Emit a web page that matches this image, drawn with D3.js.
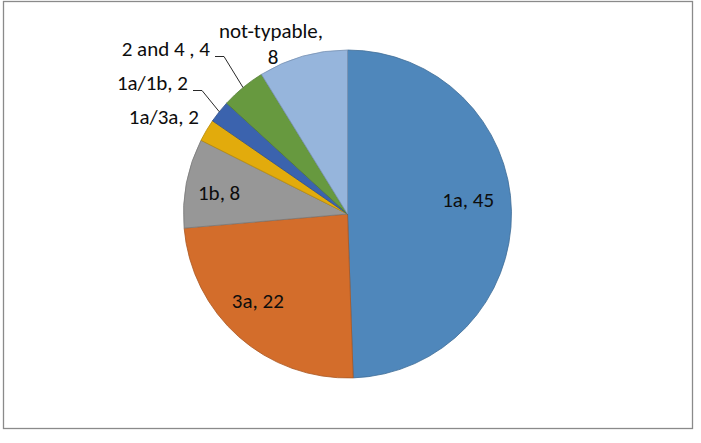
<!DOCTYPE html>
<html>
<head>
  <meta charset="utf-8">
  <title>Genotype pie</title>
  <script src="https://cdn.jsdelivr.net/npm/d3@7/dist/d3.min.js"></script>
  <style>
    body { margin: 0; background: #fff; }
    svg text {
      font-family: Carlito, Lato, 'Liberation Sans', sans-serif;
      font-size: 21px;
      fill: #0d0d0d;
    }
  </style>
</head>
<body>
  <svg id="chart" width="701" height="443"></svg>

  <script>
    // data, clockwise from 12 o'clock
    var categories = ['1a', '3a', '1b', '1a/3a', '1a/1b', '2 and 4 ', 'not-typable'];
    var values = [45, 22, 8, 2, 2, 4, 8];
    var colors = ['#4f87bb', '#d36d2b', '#979797', '#e2ab0c', '#3b63ae', '#67993f', '#96b5dc'];

    var svg = d3.select('#chart'),
      cx = 347.5, cy = 214, r = 164;

    // frame round the chart area
    svg.append('rect')
      .attr('x', 3.5).attr('y', 1.5)
      .attr('width', 689).attr('height', 427)
      .attr('fill', 'none')
      .attr('stroke', '#8a8a8a')
      .attr('stroke-width', 1.3);

    var g = svg.append('g').attr('transform', 'translate(' + cx + ',' + cy + ')');

    var data = categories.map((c, i) => ({ cat: c, value: values[i], color: colors[i] }));

    var pie = d3.pie().sort(null).value(d => d.value);
    var arcs = pie(data);

    var arc = d3.arc().innerRadius(0).outerRadius(r);
    var edgeArc = d3.arc().innerRadius(r).outerRadius(r); // centroid on the rim
    var labelArc = d3.arc().innerRadius(r * 0.76).outerRadius(r * 0.76);

    g.selectAll('path.slice')
      .data(arcs)
      .join('path')
      .attr('class', 'slice')
      .attr('d', arc)
      .attr('fill', d => d.data.color)
      .attr('stroke', d => d3.color(d.data.color).darker(0.6))
      .attr('stroke-width', 0.8);

    // labels inside the big slices
    var inside = ['1a', '3a', '1b'];
    var nudge = { '1a': [-4, -12], '3a': [-7, -7], '1b': [-6, 2] };
    g.selectAll('text.inner')
      .data(arcs.filter(d => inside.includes(d.data.cat)))
      .join('text')
      .attr('class', 'inner')
      .attr('text-anchor', 'middle')
      .attr('x', d => labelArc.centroid(d)[0] + nudge[d.data.cat][0])
      .attr('y', d => labelArc.centroid(d)[1] + nudge[d.data.cat][1])
      .attr('dy', '0.35em')
      .text(d => d.data.cat + ', ' + d.data.value);

    // labels outside the small slices (text end, baseline), relative to svg
    var outside = {
      '1a/3a': { x: 199, y: 124, leader: false },
      '1a/1b': { x: 188, y: 90, leader: true },
      '2 and 4 ': { x: 210, y: 56, leader: true }
    };
    arcs.filter(d => outside[d.data.cat]).forEach(d => {
      var p = outside[d.data.cat];
      svg.append('text')
        .attr('x', p.x).attr('y', p.y)
        .attr('text-anchor', 'end')
        .text(d.data.cat + ', ' + d.data.value);
      if (p.leader) {
        var e = edgeArc.centroid(d);
        svg.append('path')
          .attr('d', d3.line()([[p.x + 5, p.y + 0.5], [p.x + 14, p.y + 0.5], [cx + e[0], cy + e[1]]]))
          .attr('fill', 'none')
          .attr('stroke', '#111')
          .attr('stroke-width', 0.9);
      }
    });

    // not-typable sits above its slice on two lines
    var nt = arcs[arcs.length - 1];
    svg.append('text').attr('text-anchor', 'middle')
      .attr('x', 271).attr('y', 38).text(nt.data.cat + ',');
    svg.append('text').attr('text-anchor', 'middle')
      .attr('x', 273).attr('y', 64).text(nt.data.value);
  </script>
</body>
</html>
